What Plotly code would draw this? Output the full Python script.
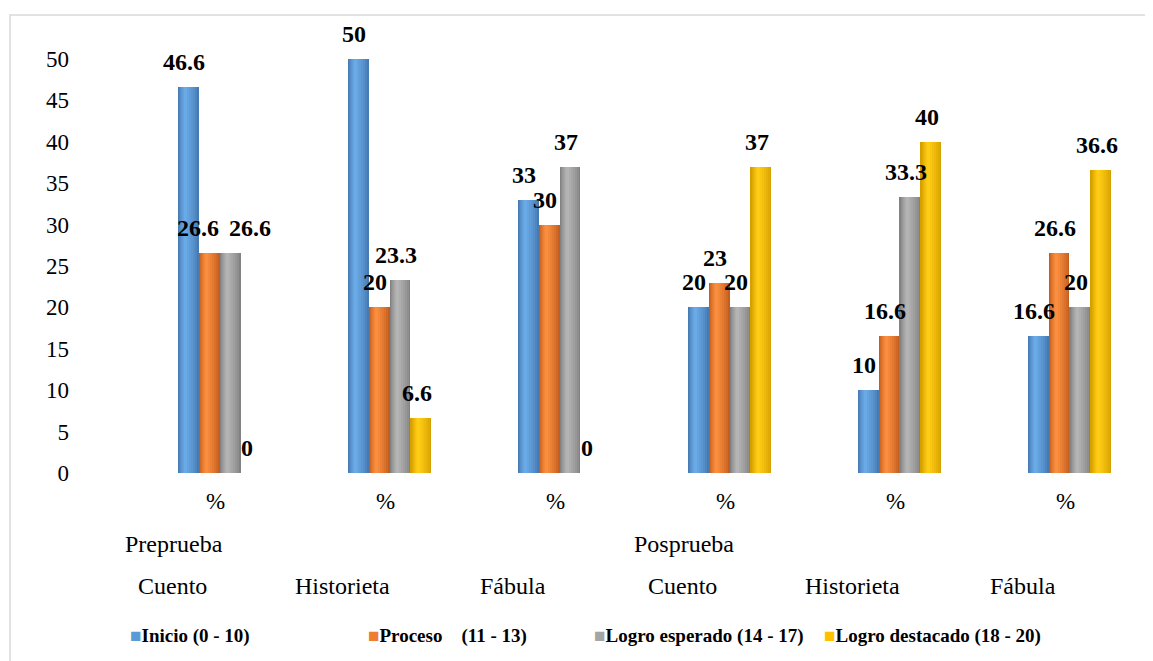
import plotly.graph_objects as go
import numpy as np

# ---------------- data ----------------
phases = ["Preprueba", "Posprueba"]
genres = ["Cuento", "Historieta", "Fábula", "Cuento", "Historieta", "Fábula"]
unit_labels = ["%", "%", "%", "%", "%", "%"]
series_names = ["Inicio (0 - 10)", "Proceso\u00a0\u00a0\u00a0\u00a0(11 - 13)",
                "Logro esperado (14 - 17)", "Logro destacado (18 - 20)"]
inicio = [46.6, 50, 33, 20, 10, 16.6]
proceso = [26.6, 20, 30, 23, 16.6, 26.6]
logro_esperado = [26.6, 23.3, 37, 20, 33.3, 20]
logro_destacado = [0, 6.6, 0, 37, 40, 36.6]
y_ticks = [0, 5, 10, 15, 20, 25, 30, 35, 40, 45, 50]

# ---------------- style ----------------
FONT = "Liberation Serif"
colors_main = ["#5B9BD5", "#ED7D31", "#A5A5A5", "#FFC000"]
colors_edge = [(70, 122, 178), (196, 94, 30), (130, 130, 130), (214, 160, 0)]
colors_light = [(106, 170, 230), (250, 142, 62), (180, 180, 180), (255, 204, 20)]
label_nudge = {(0, 1): -7, (0, 2): 24}

# page offset: the page body adds 8px around the figure
OFF = 8
PL, PT, PR, PB = 80 - OFF, 59 - OFF, 10 + OFF, 188 + OFF
FW, FH = 1153, 661
PW, PH = FW - PL - PR, FH - PT - PB

all_series = [inicio, proceso, logro_esperado, logro_destacado]
n = len(genres)
xc = np.arange(n)
w = 0.1235
LAYERS = 7


def mix(c1, c2, t):
    return "rgb(%d,%d,%d)" % tuple(round(a + (b - a) * t) for a, b in zip(c1, c2))


fig = go.Figure()
for k, vals in enumerate(all_series):
    xs = xc + (k - 1.5) * w
    for j in range(LAYERS):
        t = j / (LAYERS - 1)
        frac = 1 - 0.85 * t
        shift = -0.12 * w * t
        fig.add_trace(go.Bar(
            x=xs + shift, y=vals, width=w * frac,
            marker=dict(color=mix(colors_edge[k], colors_light[k], t ** 0.8), line=dict(width=0)),
            showlegend=False,
            hoverinfo="skip" if j < LAYERS - 1 else None,
            hovertemplate=None if j < LAYERS - 1 else "%{y}<extra></extra>"))

annotations = []
for k, vals in enumerate(all_series):
    for i, v in enumerate(vals):
        annotations.append(dict(
            x=xc[i] + (k - 1.5) * w, y=v, xref="x", yref="y",
            text="<b>%s</b>" % (f"{v:g}"), showarrow=False,
            xanchor="center", yanchor="middle",
            xshift=-4 + label_nudge.get((i, k), 0), yshift=25,
            font=dict(family=FONT, size=24, color="#000000")))

for i in range(n):
    annotations.append(dict(x=xc[i] - 0.026, y=0, xref="x", yref="y", text=unit_labels[i],
                            showarrow=False, yanchor="middle", yshift=-28,
                            font=dict(family=FONT, size=23, color="#000")))
    annotations.append(dict(x=xc[i] - 0.275, y=0, xref="x", yref="y", text=genres[i],
                            showarrow=False, yanchor="middle", yshift=-113,
                            font=dict(family=FONT, size=24, color="#000")))
for j, ph in enumerate(phases):
    annotations.append(dict(x=xc[3 * j] - 0.265, y=0, xref="x", yref="y", text=ph,
                            showarrow=False, yanchor="middle", yshift=-71,
                            font=dict(family=FONT, size=24, color="#000")))

# manual legend (reference pixel positions minus page offset)
legend_px = [128, 366, 592, 822]
for k, name in enumerate(series_names):
    annotations.append(dict(
        x=(legend_px[k] - OFF - PL) / PW, y=(473 - 636) / PH, xref="paper", yref="paper",
        xanchor="left", yanchor="middle", showarrow=False,
        text="<span style='color:%s'>■</span><b>%s</b>" % (colors_main[k], name),
        font=dict(family=FONT, size=19, color="#000")))

fig.update_layout(
    width=FW, height=FH,
    margin=dict(l=PL, r=PR, t=PT, b=PB),
    paper_bgcolor="white", plot_bgcolor="white",
    barmode="overlay", bargap=0,
    showlegend=False,
    annotations=annotations,
    shapes=[dict(type="rect", xref="paper", yref="paper",
                 x0=(10 - OFF - PL) / PW, x1=(1165 - OFF - PL) / PW,
                 y0=(473 - 675) / PH, y1=(473 - 15) / PH,
                 line=dict(color="#D9D9D9", width=1.5), fillcolor="rgba(0,0,0,0)", layer="below")],
    xaxis=dict(range=[-0.8206, 5.4324], showticklabels=False, showgrid=False, zeroline=False,
               showline=False, ticks=""),
    yaxis=dict(range=[0, 50], tickvals=y_ticks, showgrid=False, zeroline=False, showline=False,
               ticks="", ticklabelstandoff=10,
               tickfont=dict(family=FONT, size=23, color="#000")),
    font=dict(family=FONT),
)

fig.write_html("out.html")
